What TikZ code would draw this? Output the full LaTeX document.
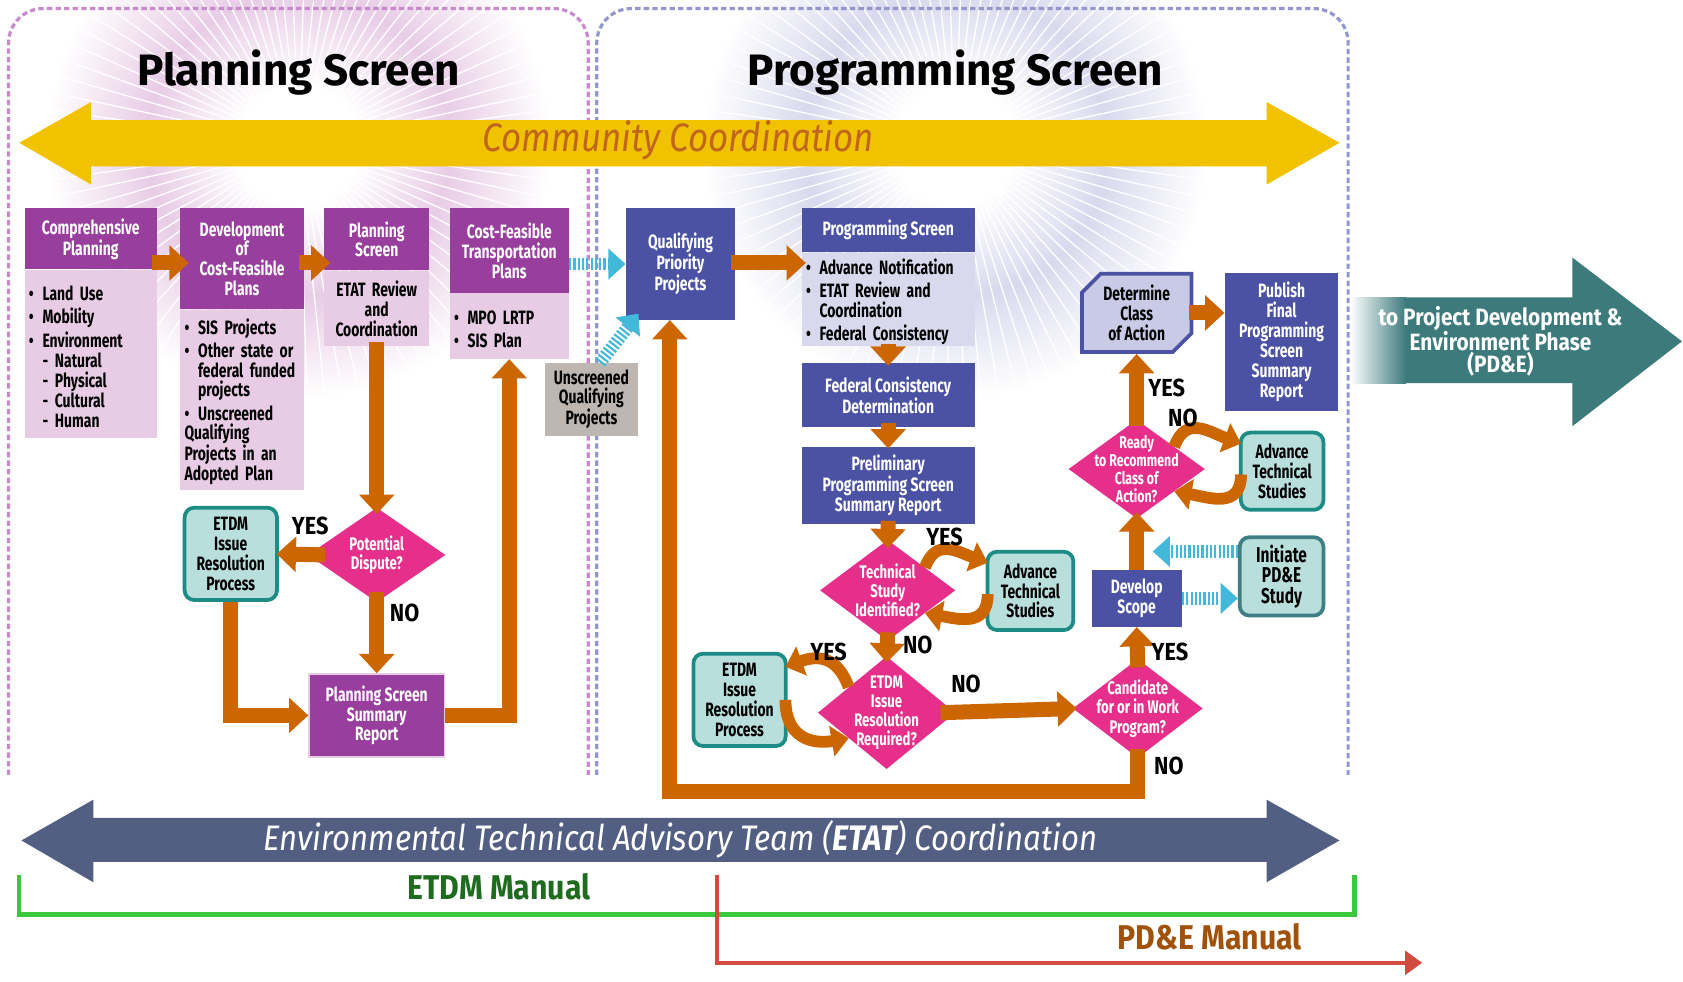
\documentclass[tikz,border=0pt]{standalone}
\usepackage{fontspec}
\setmainfont{Fira Sans}[FakeStretch=0.72]
\newfontfamily\headfont{Fira Sans}[FakeStretch=0.88]
\newfontfamily\titlefont{Fira Sans}
\usepackage{tikz}
\usetikzlibrary{arrows.meta, positioning, calc, shapes.geometric, shapes.misc}

\definecolor{plumHead}{HTML}{983F9E}
\definecolor{plumBody}{HTML}{E8CCE6}
\definecolor{plumFrame}{HTML}{C78BCB}
\definecolor{navyBox}{HTML}{4B52A3}
\definecolor{lavBody}{HTML}{D9D9EE}
\definecolor{navyFrame}{HTML}{9497CB}
\definecolor{lavDet}{HTML}{C9CAE6}
\definecolor{pinkDec}{HTML}{E62E8B}
\definecolor{tealLight}{HTML}{B9DFDD}
\definecolor{tealDark}{HTML}{1D8C85}
\definecolor{slateTeal}{HTML}{3F7F84}
\definecolor{orangeFlow}{HTML}{CC6600}
\definecolor{cyanFlow}{HTML}{42B9D8}
\definecolor{greyBox}{HTML}{BEB7B1}
\definecolor{commYellow}{HTML}{F1C200}
\definecolor{commText}{HTML}{C0661C}
\definecolor{etatSlate}{HTML}{525F82}
\definecolor{pdeTeal}{HTML}{3D7A7C}
\definecolor{manGreen}{HTML}{3CC83C}
\definecolor{manGreenText}{HTML}{1F6B1F}
\definecolor{manRed}{HTML}{D24B3F}
\definecolor{manBrown}{HTML}{A0520A}

\newcommand{\bulf}[1]{\par\hangindent=0.7em\hangafter=1\noindent\makebox[0.7em][l]{\textbullet}#1}
\newcommand{\bul}[1]{\par\vspace{3pt}\bulf{#1}}
\newcommand{\subitm}[1]{\par\noindent\hspace*{0.7em}-\hspace{0.35em}#1}

\pgfdeclareradialshading{burstplan}{\pgfpoint{0bp}{0bp}}{color(0bp)=(white); color(6bp)=(white); color(15bp)=(plumBody); color(25bp)=(white); color(50bp)=(white)}
\pgfdeclareradialshading{burstprog}{\pgfpoint{0bp}{0bp}}{color(0bp)=(white); color(6bp)=(white); color(15bp)=(lavBody); color(25bp)=(white); color(50bp)=(white)}

\tikzset{
  box/.style={font=\bfseries\fontsize{18}{18.5}\selectfont, align=center, inner sep=3pt},
  phead/.style={box, fill=plumHead, text=white},
  pbody/.style={box, fill=plumBody, text=black, align=left, inner xsep=4pt},
  bhead/.style={box, fill=navyBox, text=white},
  bbody/.style={box, fill=lavBody, text=black, align=left, inner xsep=4pt},
  decide/.style={diamond, fill=pinkDec, inner sep=0pt},
  dtext/.style={box, font=\bfseries\fontsize{17}{18}\selectfont, text=white},
  side/.style={box, fill=tealLight, draw=tealDark, line width=3.5pt, rounded corners=9pt, text=black},
  flow/.style={draw=orangeFlow, line width=14pt, -{Triangle[length=18pt, width=32pt]}},
  loopy/.style={draw=orangeFlow, line width=11pt, looseness=1.3, -{Triangle[length=16pt, width=28pt]}},
  dotflow/.style={draw=cyanFlow, line width=12pt, dash pattern=on 2pt off 2pt, -{Triangle[length=16pt, width=28pt]}},
  answer/.style={font=\headfont\bfseries\fontsize{23}{24}\selectfont, text=black},
}

\begin{document}
\begin{tikzpicture}[x=1pt, y=-1pt]
\useasboundingbox (0,0) rectangle (1568,914);

% glow behind the two titles
\shade[shading=burstplan] (278,135) circle (235);
\shade[shading=burstprog] (890,135) circle (235);
\foreach \a in {0,4,...,356} {
  \draw[white, line width=1.2pt] (278,135) -- ++(\a:240);
  \draw[white, line width=1.2pt] (890,135) -- ++(\a:240);
}

% screen frames
\draw[plumFrame, line width=3pt, dash pattern=on 5pt off 3pt, rounded corners=32pt] (8,722) -- (8,8) -- (548,8) -- (548,722);
\draw[navyFrame, line width=3pt, dash pattern=on 5pt off 3pt, rounded corners=32pt] (556,722) -- (556,8) -- (1256,8) -- (1256,722);

\node[font=\titlefont\bfseries\fontsize{41}{44}\selectfont] (plantitle) at (278,68) {Planning Screen};
\node[font=\titlefont\bfseries\fontsize{41}{44}\selectfont] (progtitle) at (890,68) {Programming Screen};

% community coordination bar
\fill[commYellow] (18,133) -- (85,95) -- (85,112) -- (1180,112) -- (1180,95) -- (1248,133) -- (1180,172) -- (1180,155) -- (85,155) -- (85,172) -- cycle;
\node[font=\headfont\itshape\fontsize{37}{38}\selectfont, text=commText] (comm) at (632,131) {Community Coordination};

% planning screen
\node[phead, minimum width=123, minimum height=57] (cp) at (84.5,222.5) {Comprehensive\\Planning};
\node[pbody, text width=115, minimum height=157, anchor=north] (cpb) at (cp.south) {\bulf{Land Use}\bul{Mobility}\bul{Environment}\subitm{Natural}\subitm{Physical}\subitm{Cultural}\subitm{Human}};
\node[phead, minimum width=115, minimum height=94] (dev) at (225.5,241) {Development\\of\\Cost-Feasible\\Plans};
\node[pbody, text width=107, minimum height=168, anchor=north] (devb) at (dev.south) {\bulf{SIS Projects}\bul{Other state or\newline federal funded\newline projects}\bul{Unscreened\newline Qualifying\newline Projects in an\newline Adopted Plan}};
\node[phead, minimum width=98, minimum height=58] (ps) at (351,223) {Planning\\Screen};
\node[pbody, align=center, text width=90, minimum height=70, anchor=north] (psb) at (ps.south) {ETAT Review\\and\\Coordination};
\node[phead, minimum width=111, minimum height=79] (cf) at (474.5,233.5) {Cost-Feasible\\Transportation\\Plans};
\node[pbody, text width=103, minimum height=61, anchor=north] (cfb) at (cf.south) {\bulf{MPO LRTP}\bul{SIS Plan}};
\node[decide, minimum width=128, minimum height=88, label={[dtext]center:{Potential\\Dispute?}}] (pd) at (351,517) {};
\node[side, minimum width=86, minimum height=86] (etdm) at (215,516) {ETDM\\Issue\\Resolution\\Process};
\node[phead, draw=plumBody, line width=1.5pt, minimum width=126, minimum height=77] (psr) at (351,666.5) {Planning Screen\\Summary\\Report};

% programming screen
\node[box, fill=greyBox, minimum width=86, minimum height=68] (unq) at (551,372) {Unscreened\\Qualifying\\Projects};
\node[bhead, minimum width=102, minimum height=104] (qual) at (634,246) {Qualifying\\Priority\\Projects};
\node[bhead, minimum width=161, minimum height=41] (prog) at (827.5,214.5) {Programming Screen};
\node[bbody, text width=153, minimum height=87, inner ysep=1pt, anchor=north] (progb) at (prog.south) {\bulf{Advance Notification}\bul{ETAT Review and\newline Coordination}\bul{Federal Consistency}};
\node[bhead, minimum width=161, minimum height=60] (fed) at (827.5,368) {Federal Consistency\\Determination};
\node[bhead, minimum width=161, minimum height=72] (pre) at (827.5,452) {Preliminary\\Programming Screen\\Summary Report};
\node[decide, minimum width=126, minimum height=94, label={[dtext]center:{Technical\\Study\\Identified?}}] (tsd) at (827,550) {};
\node[side, minimum width=80, minimum height=73] (ats) at (960,550.5) {Advance\\Technical\\Studies};
\node[decide, minimum width=128, minimum height=105, label={[dtext]center:{ETDM\\Issue\\Resolution\\Required?}}] (eir) at (826,664) {};
\node[side, minimum width=86, minimum height=86] (etp) at (689,652) {ETDM\\Issue\\Resolution\\Process};
\node[decide, minimum width=121, minimum height=92, label={[dtext]center:{Candidate\\for or in Work\\Program?}}] (cand) at (1060,660) {};
\node[bhead, minimum width=84, minimum height=53] (dsc) at (1059,557.5) {Develop\\Scope};
\node[side, draw=slateTeal, font=\bfseries\fontsize{20}{19}\selectfont, minimum width=78, minimum height=73] (init) at (1194,537) {Initiate\\PD\&E\\Study};
\node[decide, minimum width=127, minimum height=92, label={[dtext, font=\bfseries\fontsize{16}{17}\selectfont]center:{Ready\\to Recommend\\Class of\\Action?}}] (ready) at (1059,437) {};
\node[side, minimum width=77, minimum height=72] (ats2) at (1194.5,439) {Advance\\Technical\\Studies};
\node[box, chamfered rectangle, chamfered rectangle corners={north west, south east}, chamfered rectangle xsep=14pt, fill=lavDet, draw=navyBox, line width=3.5pt, minimum width=102, minimum height=73] (det) at (1059,291.5) {Determine\\Class\\of Action};
\node[bhead, minimum width=106, minimum height=129] (pub) at (1194,318.5) {Publish\\Final\\Programming\\Screen\\Summary\\Report};

% connectors, planning side
\coordinate (row) at (0,245);
\draw[flow] ([xshift=-5]cp.east |- row) -- ([xshift=8]dev.west |- row);
\draw[flow] ([xshift=-5]dev.east |- row) -- ([xshift=6]ps.west |- row);
\draw[flow] ([yshift=4]psb.south) -- ([yshift=-6]pd.north);
\draw[flow] ([xshift=16]pd.west) -- ([xshift=-2]etdm.east);
\draw[flow] ([yshift=10]pd.south) -- (psr.north);
\draw[flow] (etdm.south) -- (etdm.south |- psr.west) -- (psr.west);
\draw[flow] (psr.east) -- (psr.east -| cfb.south) -- (cfb.south);

% connectors, programming side
\draw[dotflow] (qual.west -| cf.east) -- (qual.west);
\draw[dotflow] ([xshift=8]unq.north) -- ([xshift=12,yshift=6]qual.south west);
\draw[flow] ([xshift=-4]qual.east |- row) -- ([xshift=4]progb.west |- row);
\draw[flow] ([yshift=2]progb.south) -- ([yshift=-3]fed.north);
\draw[flow] ([yshift=4]fed.south) -- ([yshift=-2]pre.north);
\draw[flow] ([yshift=3]pre.south) -- ([yshift=-8]tsd.north);
\draw[flow] ([yshift=8]tsd.south) -- ([yshift=-6]eir.north);
\draw[loopy] ($(tsd.north)!0.55!(tsd.east)$) to[out=70, in=160] ([xshift=2,yshift=-12]ats.north west);
\draw[loopy] ([xshift=2,yshift=-3]ats.west) to[out=-90, in=-10] ($(tsd.south)!0.55!(tsd.east)$);
\draw[loopy] ($(eir.north)!0.55!(eir.west)$) to[out=110, in=20] ([xshift=-2,yshift=-14]etp.north east);
\draw[loopy] ([xshift=-2]etp.east) to[out=-90, in=190] ($(eir.south)!0.55!(eir.west)$);
\draw[flow] ([xshift=-14]eir.east) -- ([xshift=4]cand.west);
\coordinate (bot) at (0,737);
\draw[flow] ([yshift=8]cand.south) -- (cand.south |- bot) -- ([xshift=-10]qual.south |- bot) -- ([xshift=-10]qual.south);
\draw[flow] ([yshift=-8]cand.north) -- (dsc.south);
\draw[flow] (dsc.north) -- ([yshift=6]ready.south);
\draw[flow] ([yshift=-6]ready.north) -- (det.south);
\draw[flow] ([xshift=-4]det.east) -- (pub.west |- det.east);
\draw[loopy] ($(ready.north)!0.55!(ready.east)$) to[out=70, in=160] ([xshift=2,yshift=-12]ats2.north west);
\draw[loopy] ([xshift=2,yshift=-3]ats2.west) to[out=-90, in=-10] ($(ready.south)!0.55!(ready.east)$);
\draw[dotflow] (dsc.east) -- (init.west |- dsc.east);
\coordinate (tap) at ($(dsc.north)+(15,-17)$);
\draw[dotflow] (init.west |- tap) -- (tap);

% answers
\node[answer] (y1) at (289,490) {YES};
\node[answer] (n1) at (377,571) {NO};
\node[answer] (y2) at (880,500) {YES};
\node[answer] (n2) at (855,601) {NO};
\node[answer] (y3) at (772,607) {YES};
\node[answer] (n3) at (900,637) {NO};
\node[answer] (y4) at (1090,607) {YES};
\node[answer] (n4) at (1089,714) {NO};
\node[answer] (y5) at (1087,361) {YES};
\node[answer] (n5) at (1102,389) {NO};

% next phase
\shade[left color=white, right color=pdeTeal] (1258,277) rectangle (1310,357);
\fill[pdeTeal] (1309,277) -- (1465,277) -- (1465,240) -- (1567,318) -- (1465,397) -- (1465,357) -- (1309,357) -- cycle;
\node[font=\headfont\bfseries\fontsize{22}{19}\selectfont, text=white, align=center] (pde) at (1398,318) {to Project Development \&\\Environment Phase\\(PD\&E)};

% ETAT bar and manuals
\fill[etatSlate] (20,783) -- (87,745) -- (87,762) -- (1180,762) -- (1180,745) -- (1248,783) -- (1180,822) -- (1180,803) -- (87,803) -- (87,822) -- cycle;
\node[font=\headfont\itshape\fontsize{33}{34}\selectfont, text=white] (etat) at (634,782) {Environmental Technical Advisory Team (\textbf{ETAT}) Coordination};
\draw[manGreen, line width=4pt] (18,815) -- (18,852) -- (1262,852) -- (1262,815);
\draw[manRed, line width=4pt, -{Triangle[length=16pt, width=22pt]}] (668,815) -- (668,897) -- (1325,897);
\node[font=\headfont\bfseries\fontsize{32}{33}\selectfont, text=manGreenText] (etdmman) at (465,826) {ETDM Manual};
\node[font=\headfont\bfseries\fontsize{32}{33}\selectfont, text=manBrown] (pdeman) at (1127,873) {PD\&E Manual};
\end{tikzpicture}
\end{document}
